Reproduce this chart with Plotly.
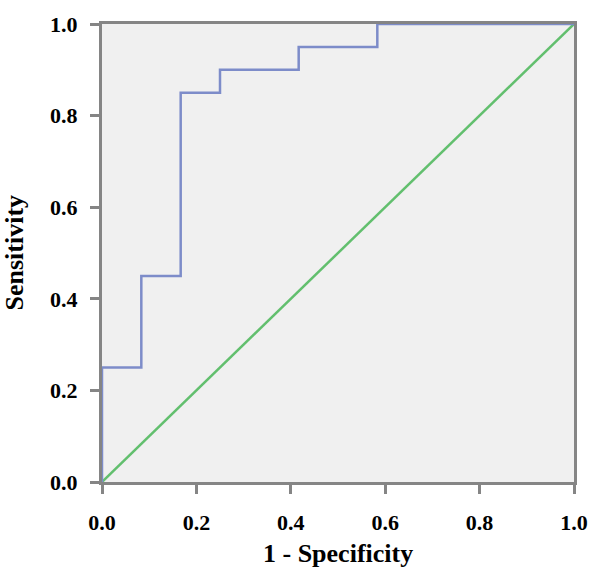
import plotly.graph_objects as go

# ROC curve vertices (1 - specificity, sensitivity)
fpr = [0.0, 0.0, 0.0833, 0.1667, 0.25, 0.4167, 0.5833, 1.0]
tpr = [0.0, 0.25, 0.45, 0.85, 0.90, 0.95, 1.0, 1.0]
ref_x = [0.0, 1.0]
ref_y = [0.0, 1.0]
tick_vals = [0.0, 0.2, 0.4, 0.6, 0.8, 1.0]
tick_text = ["0.0", "0.2", "0.4", "0.6", "0.8", "1.0"]
x_title = "1 - Specificity"
y_title = "Sensitivity"

fig = go.Figure()
fig.add_trace(go.Scatter(x=ref_x, y=ref_y, mode="lines",
                         line=dict(color="#62bf6e", width=2.5), showlegend=False,
                         cliponaxis=False))
fig.add_trace(go.Scatter(x=fpr, y=tpr, mode="lines", line_shape="hv",
                         line=dict(color="#7d8cc9", width=2.5), showlegend=False,
                         cliponaxis=False))

font = dict(family="Liberation Serif, Times New Roman, serif", color="#000000")
bold_ticks = ["<b>%s</b>" % t for t in tick_text]
axis_common = dict(range=[0, 1], tickvals=tick_vals, ticktext=bold_ticks,
                   showgrid=False, zeroline=False, showline=True, mirror=True,
                   linecolor="#858585", linewidth=3, ticks="outside", ticklen=9,
                   tickwidth=3, tickcolor="#858585", ticklabeloverflow="allow",
                   tickfont=dict(size=22, **font))

fig.update_layout(
    width=600, height=570,
    margin=dict(l=102, r=18, t=12, b=88),
    paper_bgcolor="white", plot_bgcolor="#f0f0f0",
    xaxis=dict(ticklabelstandoff=10, **axis_common),
    yaxis=dict(ticklabelstandoff=8, **axis_common),
    annotations=[
        dict(text="<b>%s</b>" % x_title, xref="paper", yref="paper", x=0.5, y=-0.157,
             xanchor="center", yanchor="middle", showarrow=False,
             font=dict(size=26, **font)),
        dict(text="<b>%s</b>" % y_title, xref="paper", yref="paper", x=-0.1875, y=0.5,
             xanchor="center", yanchor="middle", textangle=-90, showarrow=False,
             font=dict(size=26, **font)),
    ],
)
fig.write_html("out.html", config={"displayModeBar": False},
               post_script="document.body.style.margin='0px';document.body.style.padding='0px';")
